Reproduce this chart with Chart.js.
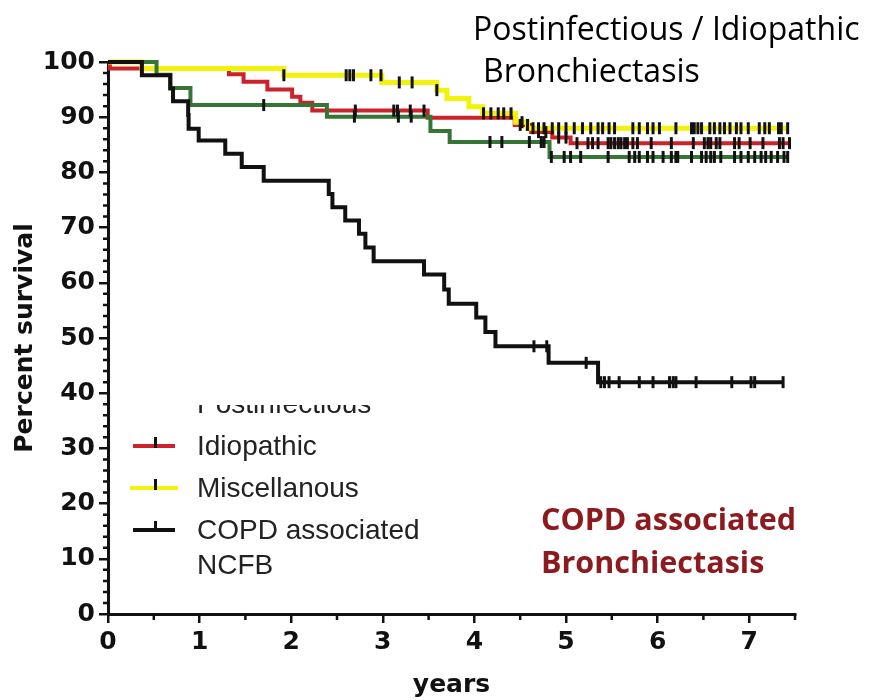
<!DOCTYPE html>
<html>
<head>
<meta charset="utf-8">
<script src="https://cdn.jsdelivr.net/npm/chart.js@4.4.1/dist/chart.umd.min.js"></script>
<style>
  body { margin: 0; background: #fff; }
  #wrap { position: relative; width: 869px; height: 700px; }
  canvas { position: absolute; left: 0; top: 0; }
  .note { position: absolute; font-family: "Open Sans", sans-serif; font-size: 32px; line-height: 42px; color: #000; white-space: nowrap; }
  .copd { font-weight: bold; font-size: 30.5px; line-height: 43px; color: #8c1a1e; }
  .lg { position: absolute; left: 197px; font-family: "Liberation Sans", Arial, sans-serif; font-size: 28px; line-height: 34px; height: 34px; color: #222; white-space: nowrap; }
  .cut { position: absolute; left: 197px; top: 405px; height: 18px; width: 220px; overflow: hidden; }
  .cut .lg { left: 0; top: -18px; }
  .sw { position: absolute; height: 4px; }
  .tk { position: absolute; width: 3px; height: 11px; background: #111; }
</style>
</head>
<body>
<div id="wrap">
  <canvas id="km" width="869" height="700"></canvas>

  <div class="note" style="left:473px; top:7px;">Postinfectious / Idiopathic</div>
  <div class="note" style="left:483px; top:49px;">Bronchiectasis</div>

  <div class="note copd" style="left:541px; top:497px;">COPD associated<br>Bronchiectasis</div>

  <div class="cut"><div class="lg">Postinfectious</div></div>

  <div class="sw" style="left:133px; top:444px; width:42px; background:#cc2229;"></div>
  <div class="tk" style="left:154px; top:437px;"></div>
  <div class="lg" style="top:429px;">Idiopathic</div>

  <div class="sw" style="left:130px; top:486px; width:48px; background:#f2f20a;"></div>
  <div class="tk" style="left:154px; top:479px;"></div>
  <div class="lg" style="top:471px;">Miscellanous</div>

  <div class="sw" style="left:133px; top:528px; width:42px; background:#111;"></div>
  <div class="tk" style="left:154px; top:521px;"></div>
  <div class="lg" style="top:513px;">COPD associated</div>
  <div class="lg" style="top:548px;">NCFB</div>
</div>

<script>
const X_TICKS = [0, 1, 2, 3, 4, 5, 6, 7];

// Kaplan-Meier steps: time (years) of each drop and survival (%) after it
const postTimes = [0, 0.53, 0.68, 0.90, 2.39, 3.52, 3.73, 4.82, 7.42];
const postSurv  = [100, 97.7, 95.3, 92.2, 90.1, 87.5, 85.5, 82.8, 82.8];
const postCensor = [1.70, 2.69, 3.17, 3.31, 4.17, 4.30, 4.60, 4.73, 4.76, 4.84, 4.98, 5.05, 5.16,
  5.46, 5.69, 5.75, 5.80, 5.89, 5.95, 6.06, 6.15, 6.20, 6.22, 6.37, 6.48, 6.53, 6.58, 6.62,
  6.69, 6.84, 6.91, 6.99, 7.06, 7.13, 7.18, 7.24, 7.31, 7.38, 7.42];

const idioTimes = [0, 0.02, 1.32, 1.48, 1.74, 2.01, 2.10, 2.23, 3.49, 4.44, 4.62, 4.85, 5.05, 7.44];
const idioSurv  = [100, 98.8, 97.8, 96.4, 95.0, 93.7, 92.6, 91.2, 89.9, 88.6, 87.3, 86.3, 85.3, 85.3];
const idioCensor = [2.70, 3.12, 3.16, 3.30, 3.45, 4.50, 4.58, 4.70, 4.78, 4.92, 5.00, 5.12,
  5.24, 5.29, 5.35, 5.46, 5.49, 5.53, 5.57, 5.60, 5.64, 5.67, 5.73, 5.78, 5.93, 6.15, 6.39,
  6.51, 6.55, 6.58, 6.64, 6.68, 6.84, 6.89, 7.01, 7.15, 7.33, 7.37, 7.44];

const miscTimes = [0, 0.37, 1.92, 2.99, 3.59, 3.70, 3.94, 4.09, 4.45, 4.58, 7.42];
const miscSurv  = [100, 98.8, 97.6, 96.3, 94.9, 93.4, 91.9, 90.7, 89.1, 88.0, 88.0];
const miscCensor = [1.92, 2.60, 2.64, 2.68, 2.87, 2.98, 3.18, 3.32, 3.59, 4.10, 4.18, 4.26,
  4.32, 4.40, 4.52, 4.64, 4.70, 4.76, 4.85, 4.92, 5.00, 5.09, 5.18, 5.27, 5.35, 5.40, 5.47,
  5.53, 5.73, 5.80, 5.89, 5.95, 6.02, 6.20, 6.37, 6.40, 6.44, 6.48, 6.57, 6.62, 6.68, 6.73,
  6.79, 6.86, 6.91, 6.99, 7.11, 7.17, 7.22, 7.32, 7.35, 7.42];

const copdTimes = [0, 0.37, 0.68, 0.71, 0.875, 0.88, 0.99, 1.28, 1.46, 1.70, 2.41, 2.45, 2.59,
  2.74, 2.81, 2.90, 3.45, 3.67, 3.72, 4.02, 4.12, 4.23, 4.81, 5.35, 7.37];
const copdSurv  = [100, 97.6, 95.2, 92.9, 90.4, 87.9, 85.8, 83.4, 81.0, 78.5, 76.1, 73.7, 71.3,
  68.9, 66.4, 63.9, 61.5, 58.8, 56.2, 53.7, 51.1, 48.5, 45.5, 42.0, 42.0];
const copdCensor = [4.65, 4.79, 5.22, 5.38, 5.42, 5.47, 5.58, 5.80, 5.95, 6.13, 6.17, 6.20,
  6.42, 6.81, 7.02, 7.06, 7.37];

const COLORS = { post: "#357535", idio: "#cc2229", misc: "#f2f20a", copd: "#111111" };

function survivalAt(times, surv, t) {
  let s = surv[0];
  for (let i = 0; i < times.length; i++) {
    if (times[i] <= t) s = surv[i];
  }
  return s;
}

function curve(label, times, surv, color, width) {
  return {
    label,
    data: times.map((t, i) => ({ x: t, y: surv[i] })),
    borderColor: color,
    borderWidth: width,
    stepped: true,
    pointRadius: 0,
    fill: false,
    clip: false,
  };
}

function censors(label, ctimes, times, surv) {
  return {
    label,
    data: ctimes.map((t) => ({ x: t, y: survivalAt(times, surv, t) })),
    showLine: false,
    pointStyle: "line",
    pointRotation: 90,
    pointRadius: 6,
    pointBorderWidth: 3,
    pointBorderColor: "#111",
    pointBackgroundColor: "#111",
    clip: false,
  };
}

// minor tick marks on both axes
const minorTicks = {
  id: "minorTicks",
  afterDraw(chart) {
    const { ctx, scales: { x, y } } = chart;
    ctx.save();
    ctx.strokeStyle = "#111";
    ctx.lineWidth = 2.5;
    ctx.beginPath();
    for (let v = 2; v < 100; v += 2) {
      if (v % 10 === 0) continue;
      const py = y.getPixelForValue(v);
      ctx.moveTo(x.left - 5, py);
      ctx.lineTo(x.left, py);
    }
    for (let v = 0.5; v <= 7.5; v += 1) {
      const px = x.getPixelForValue(v);
      ctx.moveTo(px, y.bottom);
      ctx.lineTo(px, y.bottom + 6);
    }
    ctx.stroke();
    ctx.restore();
  },
};

const axisFont = { family: "'DejaVu Sans', sans-serif", size: 25, weight: "bold" };

new Chart(document.getElementById("km"), {
  type: "line",
  data: {
    datasets: [
      censors("COPD censored", copdCensor, copdTimes, copdSurv),
      censors("Postinfectious censored", postCensor, postTimes, postSurv),
      censors("Miscellanous censored", miscCensor, miscTimes, miscSurv),
      censors("Idiopathic censored", idioCensor, idioTimes, idioSurv),
      curve("COPD associated NCFB", copdTimes, copdSurv, COLORS.copd, 4),
      curve("Postinfectious", postTimes, postSurv, COLORS.post, 4),
      curve("Miscellanous", miscTimes, miscSurv, COLORS.misc, 5),
      curve("Idiopathic", idioTimes, idioSurv, COLORS.idio, 4),
    ],
  },
  options: {
    responsive: false,
    animation: false,
    layout: { padding: { top: 62, right: 74, left: 0, bottom: 0 } },
    plugins: { legend: { display: false }, tooltip: { enabled: false } },
    scales: {
      x: {
        type: "linear",
        min: 0,
        max: 7.5,
        afterBuildTicks: (s) => { s.ticks = X_TICKS.map((v) => ({ value: v })); },
        afterFit: (s) => { s.height = 86; },
        ticks: { autoSkip: false, maxRotation: 0, padding: 4, color: "#111", font: axisFont },
        grid: { drawOnChartArea: false, tickLength: 9, color: "#111", lineWidth: 2.5 },
        border: { display: true, color: "#111", width: 3 },
        title: { display: true, text: "years", color: "#111", font: axisFont, padding: { top: 0, bottom: 0 } },
      },
      y: {
        min: 0,
        max: 100,
        afterFit: (s) => { s.width = 108; },
        ticks: { stepSize: 10, padding: 4, color: "#111", font: axisFont },
        grid: { drawOnChartArea: false, tickLength: 9, color: "#111", lineWidth: 2.5 },
        border: { display: true, color: "#111", width: 3 },
        title: { display: true, text: "Percent survival", color: "#111", font: axisFont, padding: { top: 10, bottom: 0 } },
      },
    },
  },
  plugins: [minorTicks],
});
</script>
</body>
</html>
